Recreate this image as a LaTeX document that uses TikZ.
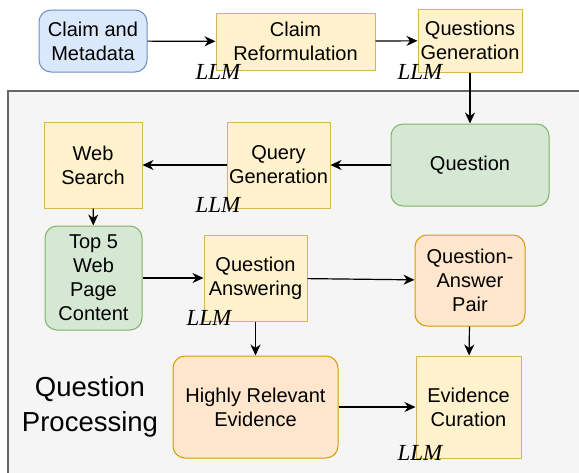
\documentclass[tikz,border=0pt]{standalone}
\usepackage{fontspec}
\setmainfont{Liberation Sans}
\newfontfamily\llmfont{Liberation Serif}
\usepackage{xcolor}
\definecolor{InputFill}{HTML}{DAE8FC}
\definecolor{InputLine}{HTML}{6C8EBF}
\definecolor{LlmFill}{HTML}{FFF2CC}
\definecolor{LlmLine}{HTML}{D6B656}
\definecolor{DataFill}{HTML}{D5E8D4}
\definecolor{DataLine}{HTML}{82B366}
\definecolor{OutFill}{HTML}{FFE6CC}
\definecolor{OutLine}{HTML}{D79B00}
\definecolor{PanelFill}{HTML}{F5F5F5}
\definecolor{PanelLine}{HTML}{666666}
\usetikzlibrary{arrows.meta}
\tikzset{
  boxbase/.style={
    line width=1pt,
    align=center,
    font=\fontsize{20}{24}\selectfont,
    inner sep=0pt
  },
  inputbox/.style={
    boxbase,
    draw=InputLine,
    fill=InputFill,
    rounded corners=12pt
  },
  llmbox/.style={
    boxbase,
    draw=LlmLine,
    fill=LlmFill
  },
  databox/.style={
    boxbase,
    draw=DataLine,
    fill=DataFill,
    rounded corners=12pt
  },
  outbox/.style={
    boxbase,
    draw=OutLine,
    fill=OutFill,
    rounded corners=12pt
  },
  llmtag/.style={
    font=\llmfont\itshape\fontsize{23}{23}\selectfont,
    inner sep=0pt
  },
  flowline/.style={
    draw=black,
    -{Stealth[length=11pt,width=10pt,inset=3.5pt]},
    line width=1.2pt
  }
}

\begin{document}
\begin{tikzpicture}[x=1pt,y=-1pt]
  \useasboundingbox (0,0) rectangle (579,472);
  \clip (0,0) rectangle (579,472);
  \draw[draw=PanelLine, fill=PanelFill, line width=1.3pt] (8,91) rectangle (600,490);
  \node[font=\fontsize{27.5}{35}\selectfont, align=center, inner sep=0pt] (panelTitle) at (90,407) {Question\\Processing};
  % top row
  \node[inputbox, minimum width=108pt, minimum height=62pt] (claim) at (93,41) {Claim and\\Metadata};
  \node[llmbox, minimum width=159pt, minimum height=57pt] (reform) at (295.5,41.5) {Claim\\Reformulation};
  \node[llmbox, minimum width=104pt, minimum height=63pt] (qgen) at (470,40.5) {Questions\\Generation};
  % question processing
  \node[databox, minimum width=158pt, minimum height=82pt] (question) at (470,165) {Question};
  \node[llmbox, minimum width=103pt, minimum height=86pt] (querygen) at (278.5,165) {Query\\Generation};
  \node[llmbox, minimum width=98pt, minimum height=86pt] (search) at (93,165) {Web\\Search};
  \node[databox, minimum width=97pt, minimum height=104pt] (topfive) at (93.5,278) {Top 5\\Web\\Page\\Content};
  \node[llmbox, minimum width=103pt, minimum height=86pt] (answering) at (255.5,278) {Question\\Answering};
  \node[outbox, minimum width=110pt, minimum height=91pt] (qapair) at (470,280.5) {Question-\\Answer\\Pair};
  \node[outbox, minimum width=165pt, minimum height=102pt] (relevant) at (255.5,407) {Highly Relevant\\Evidence};
  \node[llmbox, minimum width=105pt, minimum height=102pt] (curation) at (468.5,407) {Evidence\\Curation};
  % LLM tags
  \node[llmtag] (tagReform) at (218,72) {LLM};
  \node[llmtag] (tagQgen) at (420,72) {LLM};
  \node[llmtag] (tagQuery) at (218,205) {LLM};
  \node[llmtag] (tagAnswer) at (209,318) {LLM};
  \node[llmtag] (tagCuration) at (420,453) {LLM};
  \foreach \src/\dst in {claim/reform,reform/qgen,qgen/question,question/querygen,querygen/search,search/topfive,topfive/answering,answering/qapair,answering/relevant,qapair/curation,relevant/curation}{\draw[flowline] (\src) -- (\dst);}
\end{tikzpicture}
\end{document}
